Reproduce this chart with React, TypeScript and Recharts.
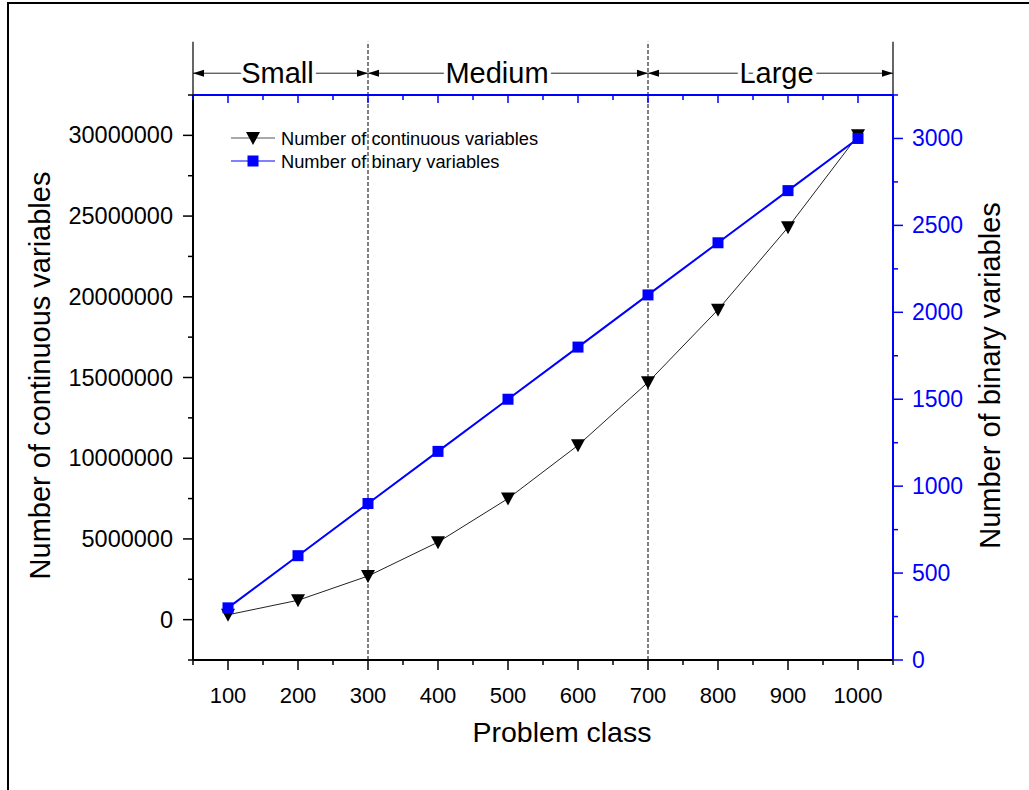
import React from 'react';
import { LineChart, Line, XAxis, YAxis, ReferenceLine } from 'recharts';

const FONT = '"Liberation Sans", Arial, sans-serif';
const BLUE = '#0000ff';

// problem classes and the two series
const CLASSES = [100, 200, 300, 400, 500, 600, 700, 800, 900, 1000];
const CONTINUOUS = [300000, 1200000, 2700000, 4800000, 7500000, 10800000, 14700000, 19200000, 24300000, 30000000];
const BINARY = [300, 600, 900, 1200, 1500, 1800, 2100, 2400, 2700, 3000];

const X_TICKS = [50, 100, 150, 200, 250, 300, 350, 400, 450, 500, 550, 600, 650, 700, 750, 800, 850, 900, 950, 1000, 1050];
const LEFT_TICKS = [-2500000, 0, 2500000, 5000000, 7500000, 10000000, 12500000, 15000000, 17500000, 20000000, 22500000, 25000000, 27500000, 30000000, 32500000];
const RIGHT_TICKS = [0, 250, 500, 750, 1000, 1250, 1500, 1750, 2000, 2250, 2500, 2750, 3000, 3250];

const REGION_BOUNDS = [50, 300, 700, 1050];
const REGION_NAMES = ['Small', 'Medium', 'Large'];
const DIVIDERS = [300, 700];

// annotation levels above the plot, in left-axis units
const ARROW_LEVEL = 33850000;
const GUIDE_TOP = 35800000;
// small nudges of the region names off the arrow centre (px)
const NAME_NUDGE = [-3, -11, 6];

const SERIES = [
    { key: 'continuous', name: 'Number of continuous variables', color: '#000', shape: 'triangle' },
    { key: 'binary', name: 'Number of binary variables', color: BLUE, shape: 'square' },
];

const rows = CLASSES.map((c, i) => ({ cls: c, continuous: CONTINUOUS[i], binary: BINARY[i] }));

const Triangle = ({ cx, cy, color }: any) => (
    <polygon points={`${cx - 7},${cy - 6} ${cx + 7},${cy - 6} ${cx},${cy + 7}`} fill={color} />
);
const Square = ({ cx, cy, color }: any) => (
    <rect x={cx - 5.5} y={cy - 5.5} width={11} height={11} fill={color} />
);

const LeftTick = ({ x, y, payload }: any) => {
    const v = payload.value;
    const major = v % 5000000 === 0;
    return (
        <g>
            <line x1={x - (major ? 10 : 5)} x2={x} y1={y} y2={y} stroke="#000" strokeWidth={1.5} />
            {major && (
                <text x={x - 20} y={y} textAnchor="end" dominantBaseline="central" fontSize={23.5} fontFamily={FONT} fill="#000">
                    {String(v)}
                </text>
            )}
        </g>
    );
};

const RightTick = ({ x, y, payload }: any) => {
    const v = payload.value;
    const major = v % 500 === 0;
    return (
        <g>
            <line x1={x} x2={x + (major ? 10 : 5)} y1={y} y2={y} stroke={BLUE} strokeWidth={1.5} />
            {major && (
                <text x={x + 19} y={y} textAnchor="start" dominantBaseline="central" fontSize={23} fontFamily={FONT} fill={BLUE}>
                    {String(v)}
                </text>
            )}
        </g>
    );
};

const BottomTick = ({ x, y, payload }: any) => {
    const v = payload.value;
    const major = v % 100 === 0;
    return (
        <g>
            <line x1={x} x2={x} y1={y} y2={y + (major ? 10 : 5)} stroke="#000" strokeWidth={1.5} />
            {major && (
                <text x={x} y={y + 43} textAnchor="middle" fontSize={22} fontFamily={FONT} fill="#000">
                    {String(v)}
                </text>
            )}
        </g>
    );
};

const TopTick = ({ x, y, payload }: any) => {
    const major = payload.value % 100 === 0;
    return <line x1={x} x2={x} y1={y} y2={y + (major ? 8 : 5)} stroke={BLUE} strokeWidth={1.5} />;
};

const regionArrow = (name: string, nudge: number) => (p: any) => {
    const { x1, x2, y1 } = p;
    const y = y1;
    return (
        <g>
            <line x1={x1} x2={x2} y1={y} y2={y} stroke="#222" strokeWidth={1} />
            <polygon points={`${x1},${y} ${x1 + 11},${y - 3.5} ${x1 + 11},${y + 3.5}`} fill="#000" />
            <polygon points={`${x2},${y} ${x2 - 11},${y - 3.5} ${x2 - 11},${y + 3.5}`} fill="#000" />
            <text
                x={(x1 + x2) / 2 + nudge}
                y={y + 10}
                textAnchor="middle"
                fontSize={29}
                fontFamily={FONT}
                fill="#000"
                stroke="#fff"
                strokeWidth={8}
                paintOrder="stroke"
            >
                {name}
            </text>
        </g>
    );
};

const leftTitle = ({ viewBox }: any) => {
    const x = viewBox.x + 40;
    const y = viewBox.y + viewBox.height / 2 - 2;
    return (
        <text transform={`translate(${x},${y}) rotate(-90)`} textAnchor="middle" fontSize={29} fontFamily={FONT} fill="#000">
            Number of continuous variables
        </text>
    );
};

const rightTitle = ({ viewBox }: any) => {
    const x = viewBox.x + 107;
    const y = viewBox.y + viewBox.height / 2 - 2;
    return (
        <text transform={`translate(${x},${y}) rotate(-90)`} textAnchor="middle" fontSize={29} fontFamily={FONT} fill="#000">
            Number of binary variables
        </text>
    );
};

const bottomTitle = ({ viewBox }: any) => (
    <text x={viewBox.x + viewBox.width / 2 + 19} y={viewBox.y + 82} textAnchor="middle" fontSize={28.5} fontFamily={FONT} fill="#000">
        Problem class
    </text>
);

const ChartLegend = () => (
    <svg width={330} height={50} style={{ position: 'absolute', left: 228, top: 126 }}>
        {SERIES.map((s, i) => {
            const y = 12 + i * 23;
            return (
                <g key={s.key}>
                    <line x1={3} x2={47} y1={y} y2={y} stroke={s.shape === 'triangle' ? '#555' : BLUE} strokeWidth={1.2} />
                    {s.shape === 'triangle' ? <Triangle cx={25} cy={y} color={s.color} /> : <Square cx={25} cy={y} color={s.color} />}
                    <text x={53} y={y} dominantBaseline="central" fontSize={18.3} fontFamily={FONT} fill="#000">
                        {s.name}
                    </text>
                </g>
            );
        })}
    </svg>
);

export default function App() {
    return (
        <div style={{ position: 'absolute', left: 0, top: 0, width: 1029, height: 790, background: '#fff', overflow: 'hidden' }}>
            <div style={{ position: 'absolute', left: 7, top: 2, width: 1040, height: 800, borderTop: '2px solid #000', borderLeft: '2px solid #000' }} />
            <LineChart width={1029} height={790} data={rows} margin={{ top: 75, right: 10, bottom: 10, left: 10 }} style={{ position: 'absolute', left: 0, top: 0 }}>
                <XAxis
                    xAxisId="bottom"
                    dataKey="cls"
                    type="number"
                    domain={[50, 1050]}
                    ticks={X_TICKS}
                    interval={0}
                    height={120}
                    tickSize={0}
                    tickMargin={0}
                    tickLine={false}
                    tick={<BottomTick />}
                    stroke="#000"
                    strokeWidth={2}
                    label={{ content: bottomTitle }}
                />
                <XAxis
                    xAxisId="top"
                    orientation="top"
                    dataKey="cls"
                    type="number"
                    domain={[50, 1050]}
                    ticks={X_TICKS}
                    interval={0}
                    height={20}
                    tickSize={0}
                    tickMargin={0}
                    tickLine={false}
                    tick={<TopTick />}
                    stroke={BLUE}
                    strokeWidth={2}
                />
                <YAxis
                    yAxisId="left"
                    type="number"
                    domain={[-2500000, 32500000]}
                    ticks={LEFT_TICKS}
                    interval={0}
                    width={183}
                    tickSize={0}
                    tickMargin={0}
                    tickLine={false}
                    tick={<LeftTick />}
                    stroke="#000"
                    strokeWidth={2}
                    label={{ content: leftTitle }}
                />
                <YAxis
                    yAxisId="right"
                    orientation="right"
                    type="number"
                    domain={[0, 3250]}
                    ticks={RIGHT_TICKS}
                    interval={0}
                    width={126}
                    tickSize={0}
                    tickMargin={0}
                    tickLine={false}
                    tick={<RightTick />}
                    stroke={BLUE}
                    strokeWidth={2}
                    label={{ content: rightTitle }}
                />

                {/* axis extensions above the frame */}
                {[REGION_BOUNDS[0], REGION_BOUNDS[REGION_BOUNDS.length - 1]].map((x) => (
                    <ReferenceLine
                        key={`edge-${x}`}
                        xAxisId="bottom"
                        yAxisId="left"
                        ifOverflow="visible"
                        segment={[{ x, y: 32500000 }, { x, y: GUIDE_TOP }]}
                        stroke="#000"
                        strokeWidth={1.2}
                    />
                ))}
                {DIVIDERS.map((x) => (
                    <ReferenceLine
                        key={`div-${x}`}
                        xAxisId="bottom"
                        yAxisId="left"
                        ifOverflow="visible"
                        segment={[{ x, y: -2500000 }, { x, y: GUIDE_TOP }]}
                        stroke="#000"
                        strokeWidth={1}
                        strokeDasharray="4 2"
                    />
                ))}
                {REGION_NAMES.map((name, i) => (
                    <ReferenceLine
                        key={name}
                        xAxisId="bottom"
                        yAxisId="left"
                        ifOverflow="visible"
                        segment={[{ x: REGION_BOUNDS[i], y: ARROW_LEVEL }, { x: REGION_BOUNDS[i + 1], y: ARROW_LEVEL }]}
                        shape={regionArrow(name, NAME_NUDGE[i])}
                    />
                ))}

                <Line
                    xAxisId="bottom"
                    yAxisId="left"
                    dataKey="continuous"
                    name={SERIES[0].name}
                    stroke="#222"
                    strokeWidth={1}
                    dot={(p: any) => <Triangle key={`t-${p.index}`} cx={p.cx} cy={p.cy} color="#000" />}
                    isAnimationActive={false}
                />
                <Line
                    xAxisId="bottom"
                    yAxisId="right"
                    dataKey="binary"
                    name={SERIES[1].name}
                    stroke={BLUE}
                    strokeWidth={2}
                    dot={(p: any) => <Square key={`s-${p.index}`} cx={p.cx} cy={p.cy} color={BLUE} />}
                    isAnimationActive={false}
                />
            </LineChart>
            <ChartLegend />
        </div>
    );
}
